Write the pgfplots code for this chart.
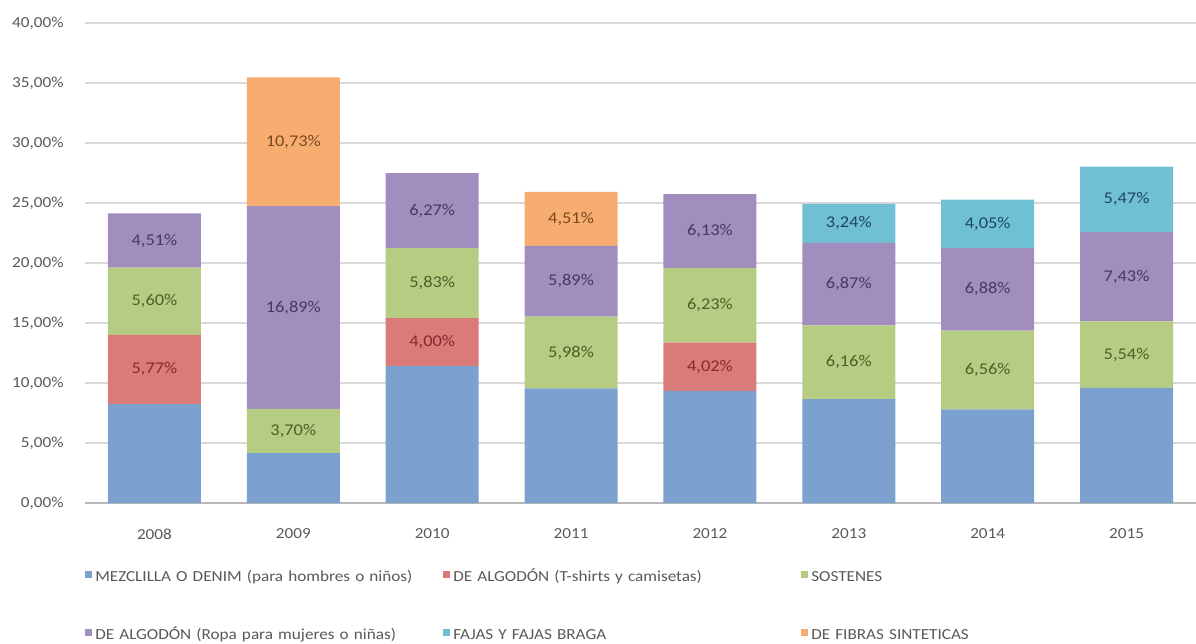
\documentclass[border=0pt]{standalone}
\usepackage{fontspec}
\setmainfont{Carlito}[FakeStretch=1.12]
\usepackage{pgfplots}
\usepackage{pgfplotstable}
\pgfplotsset{compat=1.18}

\definecolor{cblue}{RGB}{125,161,206}
\definecolor{cred}{RGB}{218,122,121}
\definecolor{cgreen}{RGB}{182,204,130}
\definecolor{cpurple}{RGB}{161,141,190}
\definecolor{ccyan}{RGB}{112,192,212}
\definecolor{corange}{RGB}{247,172,112}
\definecolor{tred}{RGB}{130,45,45}
\definecolor{tgreen}{RGB}{75,95,40}
\definecolor{tpurple}{RGB}{72,56,102}
\definecolor{tcyan}{RGB}{30,70,95}
\definecolor{torange}{RGB}{120,75,30}
\definecolor{txtgray}{RGB}{89,89,89}
\definecolor{gridgray}{RGB}{217,217,217}

% one row per year, one column per category (0 = not present), L = label text
\pgfplotstableread{
x  denim  tshirt tshirtL   sosten sostenL  ropa  ropaL     fajas fajasL   fibras fibrasL
0  8.25   5.77   5,77\%    5.60   5,60\%   4.51  4,51\%    0     {}       0      {}
1  4.15   0      {}        3.70   3,70\%   16.89 16,89\%   0     {}       10.73  10,73\%
2  11.40  4.00   4,00\%    5.83   5,83\%   6.27  6,27\%    0     {}       0      {}
3  9.55   0      {}        5.98   5,98\%   5.89  5,89\%    0     {}       4.51   4,51\%
4  9.35   4.02   4,02\%    6.23   6,23\%   6.13  6,13\%    0     {}       0      {}
5  8.65   0      {}        6.16   6,16\%   6.87  6,87\%    3.24  3,24\%   0      {}
6  7.80   0      {}        6.56   6,56\%   6.88  6,88\%    4.05  4,05\%   0      {}
7  9.60   0      {}        5.54   5,54\%   7.43  7,43\%    5.47  5,47\%   0      {}
}\datatable

% stacked bars already put nodes near coords in the middle of each segment
\pgfplotsset{
  lbl/.style={
    point meta=explicit symbolic,
    nodes near coords={\pgfplotspointmeta},
    every node near coord/.append style={anchor=center,
      text=#1, font=\fontsize{12.3}{14}\selectfont},
  },
}

\begin{document}
\begin{tikzpicture}
\useasboundingbox (-63.75pt,-105pt) rectangle (833.25pt,377.25pt);
\begin{axis}[
  at={(0pt,0pt)}, anchor=south west,
  scale only axis, width=833.25pt, height=360pt,
  xmin=-0.5, xmax=7.5, ymin=0, ymax=40,
  enlargelimits=false,
  ybar stacked, bar width=0.67,
  xtick={0,...,7},
  xticklabels={2008,2009,2010,2011,2012,2013,2014,2015},
  ytick={0,5,...,40},
  yticklabel={\pgfmathprintnumber[fixed,fixed zerofill,precision=2,use comma]{\tick}\%},
  /pgf/number format/assume math mode=true,
  ticklabel style={font=\fontsize{11.5}{13}\selectfont, text=txtgray},
  xticklabel style={yshift=-16pt},
  yticklabel style={xshift=-12.5pt},
  major tick length=0pt,
  ymajorgrids, grid style={draw=gridgray, line width=0.8pt},
  axis lines*=left,
  y axis line style={draw=none},
  x axis line style={draw=gridgray!85!black, line width=0.8pt},
  legend columns=3,
  legend cell align=left,
  legend image code/.code={\fill[#1] (0pt,0pt) rectangle (5.25pt,5.25pt);},
  legend style={at={(0,0)}, anchor=north west, xshift=0pt, yshift=-50.5pt,
    draw=none, fill=none, inner sep=0pt, row sep=32.5pt, column sep=0pt,
    /tikz/every odd column/.append style={column sep=2.25pt},
    nodes={inner sep=0pt, text width=261pt, align=left, text height=8.5pt, text depth=2.5pt,
      font=\fontsize{11.5}{13}\selectfont, text=txtgray}},
]
\addplot[fill=cblue, draw=none] table[x=x, y=denim] {\datatable};
\addlegendentry{MEZCLILLA O DENIM (para hombres o niños)}
\addplot[fill=cred, draw=none, lbl=tred] table[x=x, y=tshirt, meta=tshirtL] {\datatable};
\addlegendentry{DE ALGODÓN (T-shirts y camisetas)}
\addplot[fill=cgreen, draw=none, lbl=tgreen] table[x=x, y=sosten, meta=sostenL] {\datatable};
\addlegendentry{SOSTENES}
\addplot[fill=cpurple, draw=none, lbl=tpurple] table[x=x, y=ropa, meta=ropaL] {\datatable};
\addlegendentry{DE ALGODÓN (Ropa para mujeres o niñas)}
\addplot[fill=ccyan, draw=none, lbl=tcyan] table[x=x, y=fajas, meta=fajasL] {\datatable};
\addlegendentry{FAJAS Y FAJAS BRAGA}
\addplot[fill=corange, draw=none, lbl=torange] table[x=x, y=fibras, meta=fibrasL] {\datatable};
\addlegendentry{DE FIBRAS SINTETICAS}
\end{axis}
\end{tikzpicture}
\end{document}
